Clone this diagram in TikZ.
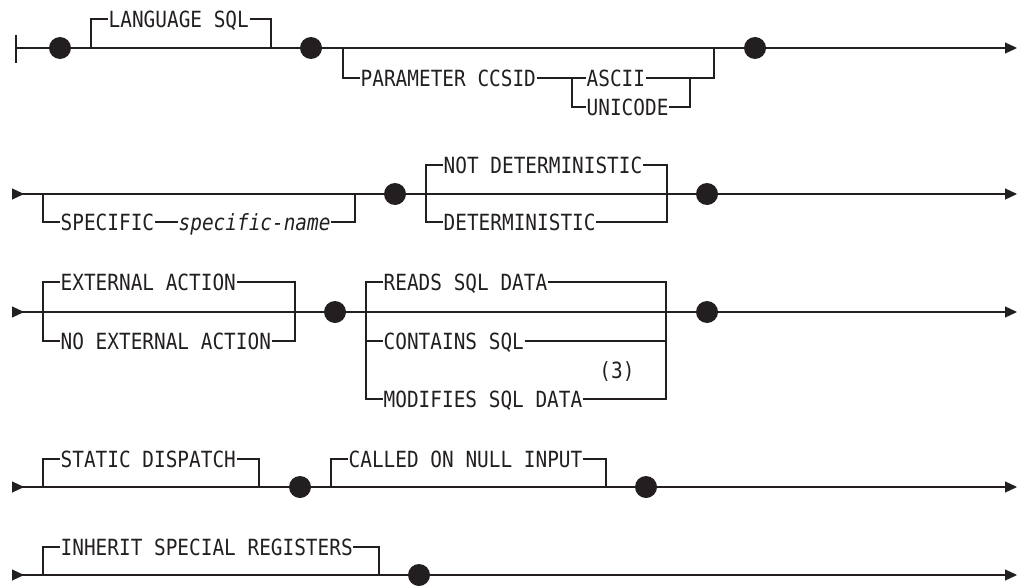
\documentclass[tikz,border=0pt]{standalone}
\usepackage{fontspec}
\usepackage{tikz}
\usetikzlibrary{arrows.meta, positioning}
\newfontfamily\railmono[FakeStretch=0.87]{DejaVu Sans Mono}
\newcommand{\railfont}{\railmono\fontsize{22.3pt}{24pt}\selectfont}
\definecolor{RailInk}{HTML}{231F20}

\begin{document}
\begin{tikzpicture}[
  x=1pt, y=-1pt,
  rail/.style={draw=RailInk, line width=1.2pt},
  into/.style={rail, {Triangle[reversed, length=12pt, width=11pt]}-},
  outof/.style={rail, -{Triangle[length=12pt, width=11pt]}},
  kw/.style={anchor=west, inner xsep=0.5pt, inner ysep=0pt, text height=16.2pt, text depth=0pt, font=\railfont, text=RailInk},
  dot/.style={circle, fill=RailInk, minimum size=22pt, inner sep=0pt}
]
\useasboundingbox (0,0) rectangle (1019,586);

% Ligne 1 : debut, LANGUAGE SQL, PARAMETER CCSID
\coordinate (r1s) at (16,48);
\coordinate (bart) at (16,35);
\coordinate (barb) at (16,63);
\node[dot] (d1) at (60,48) {};
\node[dot] (d2) at (311,48) {};
\node[dot] (d3) at (755,48) {};
\coordinate (r1e) at (1017,48);
\draw[rail] (bart) -- (barb);
\draw[rail] (r1s) -- (d1) -- (d2) -- (d3);
\draw[outof] (d3) -- (r1e);

\coordinate (lgL) at (91,48);
\coordinate (lgR) at (271,48);
\node[kw] (lang) at (108,19) {LANGUAGE SQL};
\draw[rail] (lgL) |- (lang.west);
\draw[rail] (lang.east) -| (lgR);

\coordinate (pcL) at (343,48);
\coordinate (pcR) at (714,48);
\node[kw] (param) at (360,78) {PARAMETER CCSID};
\node[kw] (ascii) at (586,78) {ASCII};
\node[kw] (unic) at (586,107) {UNICODE};
\coordinate (csL) at (572,78);
\coordinate (csR) at (690,78);
\draw[rail] (pcL) |- (param.west);
\draw[rail] (param.east) -- (ascii.west);
\draw[rail] (ascii.east) -| (pcR);
\draw[rail] (csL) |- (unic.west);
\draw[rail] (unic.east) -| (csR);

% Ligne 2 : SPECIFIC, DETERMINISTIC
\coordinate (r2s) at (12,194);
\node[dot] (d4) at (395,194) {};
\node[dot] (d5) at (707,194) {};
\coordinate (r2e) at (1017,194);
\draw[into] (r2s) -- (d4);
\draw[rail] (d4) -- (d5);
\draw[outof] (d5) -- (r2e);

\coordinate (spL) at (43,194);
\coordinate (spR) at (355,194);
\node[kw] (spec) at (60,222) {SPECIFIC};
\node[kw, font=\railfont\itshape] (sname) at (178,222) {specific-name};
\draw[rail] (spL) |- (spec.west);
\draw[rail] (spec.east) -- (sname.west);
\draw[rail] (sname.east) -| (spR);

\coordinate (dtL) at (426,194);
\coordinate (dtR) at (667,194);
\node[kw] (notdet) at (443,165) {NOT DETERMINISTIC};
\node[kw] (det) at (443,222) {DETERMINISTIC};
\draw[rail] (dtL) |- (notdet.west);
\draw[rail] (notdet.east) -| (dtR);
\draw[rail] (dtL) |- (det.west);
\draw[rail] (det.east) -| (dtR);

% Ligne 3 : EXTERNAL ACTION, acces SQL
\coordinate (r3s) at (12,312);
\node[dot] (d6) at (335,312) {};
\node[dot] (d7) at (707,312) {};
\coordinate (r3e) at (1017,312);
\draw[into] (r3s) -- (d6);
\draw[rail] (d6) -- (d7);
\draw[outof] (d7) -- (r3e);

\coordinate (exL) at (43,312);
\coordinate (exR) at (295,312);
\node[kw] (extact) at (60,282) {EXTERNAL ACTION};
\node[kw] (noext) at (60,341) {NO EXTERNAL ACTION};
\draw[rail] (exL) |- (extact.west);
\draw[rail] (extact.east) -| (exR);
\draw[rail] (exL) |- (noext.west);
\draw[rail] (noext.east) -| (exR);

\coordinate (sqL) at (366,312);
\coordinate (sqR) at (666,312);
\node[kw] (reads) at (383,282) {READS SQL DATA};
\node[kw] (contains) at (383,341) {CONTAINS SQL};
\node[kw] (modifies) at (383,399) {MODIFIES SQL DATA};
\node[kw, anchor=center] (note3) at (617,370) {(3)};
\draw[rail] (sqL) |- (reads.west);
\draw[rail] (reads.east) -| (sqR);
\draw[rail] (sqL) |- (contains.west);
\draw[rail] (contains.east) -| (sqR);
\draw[rail] (sqL) |- (modifies.west);
\draw[rail] (modifies.east) -| (sqR);

% Ligne 4 : STATIC DISPATCH, CALLED ON NULL INPUT
\coordinate (r4s) at (12,487);
\node[dot] (d8) at (300,487) {};
\node[dot] (d9) at (646,487) {};
\coordinate (r4e) at (1017,487);
\draw[into] (r4s) -- (d8);
\draw[rail] (d8) -- (d9);
\draw[outof] (d9) -- (r4e);

\coordinate (stL) at (43,487);
\coordinate (stR) at (259,487);
\node[kw] (static) at (60,459) {STATIC DISPATCH};
\draw[rail] (stL) |- (static.west);
\draw[rail] (static.east) -| (stR);

\coordinate (caL) at (331,487);
\coordinate (caR) at (606,487);
\node[kw] (called) at (348,459) {CALLED ON NULL INPUT};
\draw[rail] (caL) |- (called.west);
\draw[rail] (called.east) -| (caR);

% Ligne 5 : INHERIT SPECIAL REGISTERS
\coordinate (r5s) at (12,575);
\node[dot] (d10) at (419,575) {};
\coordinate (r5e) at (1017,575);
\draw[into] (r5s) -- (d10);
\draw[outof] (d10) -- (r5e);

\coordinate (inL) at (43,575);
\coordinate (inR) at (379,575);
\node[kw] (inherit) at (60,547) {INHERIT SPECIAL REGISTERS};
\draw[rail] (inL) |- (inherit.west);
\draw[rail] (inherit.east) -| (inR);

\end{tikzpicture}
\end{document}
